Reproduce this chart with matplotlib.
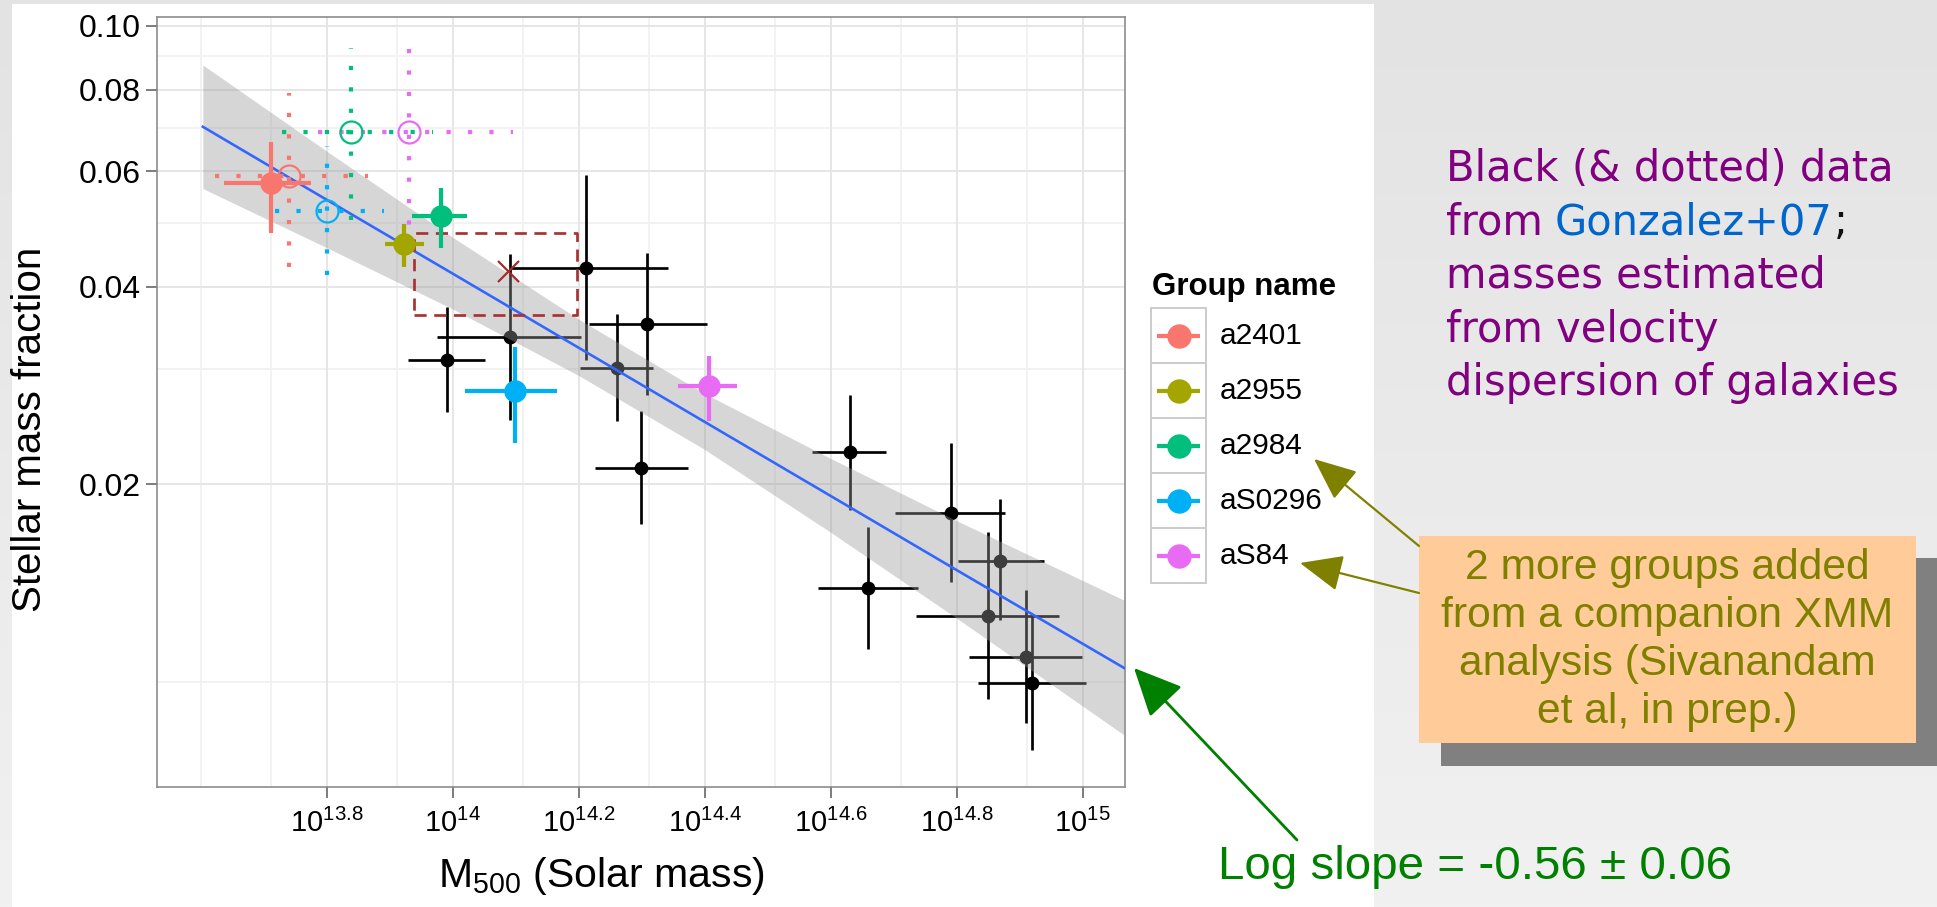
import numpy as np
import matplotlib
matplotlib.use("Agg")
import matplotlib.pyplot as plt
from matplotlib.patches import Rectangle
from matplotlib.colors import LinearSegmentedColormap

# ---------------- data ----------------
# Gonzalez+07 groups (black): log10 M500, its lower/upper bound, stellar fraction and bounds
gz_logm    = [14.090, 13.990, 14.211, 14.309, 14.260, 14.299, 14.630, 14.660, 14.791, 14.869, 14.850, 14.910, 14.919]
gz_logm_lo = [13.975, 13.929, 14.091, 14.216, 14.202, 14.226, 14.571, 14.580, 14.702, 14.802, 14.736, 14.820, 14.834]
gz_logm_hi = [14.204, 14.051, 14.341, 14.404, 14.318, 14.374, 14.688, 14.738, 14.877, 14.938, 14.963, 14.999, 15.006]
gz_f       = [0.0336, 0.0310, 0.0427, 0.0351, 0.0301, 0.0212, 0.0224, 0.0139, 0.0181, 0.0153, 0.0126, 0.0109, 0.00997]
gz_f_lo    = [0.0251, 0.0258, 0.0309, 0.0274, 0.0250, 0.0174, 0.0183, 0.0112, 0.0142, 0.0124, 0.0094, 0.00864, 0.00787]
gz_f_hi    = [0.0449, 0.0373, 0.0592, 0.0450, 0.0364, 0.0259, 0.0274, 0.0172, 0.0231, 0.0190, 0.0169, 0.0138, 0.0127]

# XMM groups (filled colored points)
groups      = ["a2401", "a2955", "a2984", "aS0296", "aS84"]
grp_colors  = ["#F8766D", "#A3A500", "#00BF7D", "#00B0F6", "#E76BF3"]
grp_logm    = [13.711, 13.922, 13.981, 14.099, 14.407]
grp_logm_lo = [13.637, 13.892, 13.935, 14.020, 14.357]
grp_logm_hi = [13.774, 13.954, 14.023, 14.165, 14.452]
grp_f       = [0.0577, 0.0465, 0.0514, 0.0278, 0.0282]
grp_f_lo    = [0.0483, 0.0429, 0.0459, 0.0231, 0.0250]
grp_f_hi    = [0.0666, 0.0499, 0.0567, 0.0324, 0.0314]

# Gonzalez values for the same groups (open circles, dotted bars)
old_groups  = ["a2401", "a2984", "aS0296", "aS84"]
old_logm    = [13.740, 13.839, 13.800, 13.930]
old_logm_lo = [13.622, 13.728, 13.718, 13.786]
old_logm_hi = [13.866, 13.969, 13.890, 14.096]
old_f       = [0.0590, 0.0688, 0.0522, 0.0688]
old_f_lo    = [0.0429, 0.0506, 0.0417, 0.0461]
old_f_hi    = [0.0790, 0.0927, 0.0655, 0.0980]

# single cross marker and dashed box
cross_logm, cross_f = 14.087, 0.0423
box_logm = [13.939, 14.197]
box_f    = [0.0362, 0.0483]

# fitted power law and its confidence band
band_logm = [13.603, 13.8, 14.0, 14.2, 14.4, 14.6, 14.8, 15.067]
band_mid  = [0.0702, 0.0543, 0.0419, 0.0323, 0.0249, 0.0192, 0.0148, 0.01048]
band_hi   = [0.0872, 0.0644, 0.0476, 0.0357, 0.0275, 0.0219, 0.0176, 0.0133]
band_lo   = [0.0565, 0.0459, 0.0370, 0.0293, 0.0226, 0.0169, 0.0125, 0.00828]

xtick_logs   = [13.8, 14.0, 14.2, 14.4, 14.6, 14.8, 15.0]
xtick_labels = ["$10^{13.8}$", "$10^{14}$", "$10^{14.2}$", "$10^{14.4}$", "$10^{14.6}$", "$10^{14.8}$", "$10^{15}$"]
xgrid_minor  = [13.6, 13.711, 13.911, 14.111, 14.311, 14.511, 14.711, 14.911]
ytick_vals   = [0.02, 0.04, 0.06, 0.08, 0.10]
ytick_labels = ["0.02", "0.04", "0.06", "0.08", "0.10"]
ygrid_minor  = [0.01, 0.03, 0.05, 0.07, 0.09]

# ---------------- figure ----------------
W, H, DPI = 1937, 907, 100
plt.rcParams["font.family"] = ["Liberation Sans", "DejaVu Sans"]
plt.rcParams["mathtext.fontset"] = "custom"
plt.rcParams["mathtext.rm"] = "Liberation Sans"
plt.rcParams["mathtext.it"] = "Liberation Sans:italic"
plt.rcParams["mathtext.bf"] = "Liberation Sans:bold"

fig = plt.figure(figsize=(W / DPI, H / DPI), dpi=DPI)

def fx(px):
    return px / W

def fy(py):
    return 1 - py / H

PT = 72.0 / DPI  # points per pixel

# background slide
bg = fig.add_axes([0, 0, 1, 1], zorder=-10)
cm = LinearSegmentedColormap.from_list("g", ["#e3e3e3", "#f1f1f1"])
bg.imshow(np.linspace(0, 1, 256).reshape(-1, 1), aspect="auto", cmap=cm, extent=[0, W, H, 0])
bg.set_xlim(0, W)
bg.set_ylim(H, 0)
bg.axis("off")
bg.add_patch(Rectangle((12, 4), 1362, 903, facecolor="white", edgecolor="none"))
bg.add_patch(Rectangle((1441, 557.5), 500, 208, facecolor="#808080", edgecolor="none"))
bg.add_patch(Rectangle((1418.7, 535.5), 497, 207.2, facecolor="#ffcc99", edgecolor="none"))

# main axes
ax = fig.add_axes([fx(157), fy(787), fx(1125) - fx(157), fy(17) - fy(787)])
ax.set_xscale("log")
ax.set_yscale("log")
ax.set_xlim(10 ** 13.5302, 10 ** 15.0674)
ax.set_ylim(10 ** -2.1606, 10 ** -0.9863)
ax.set_facecolor("white")

for v in xgrid_minor:
    ax.axvline(10 ** v, color="#f2f2f2", lw=2 * PT, zorder=0.3)
for v in ygrid_minor:
    ax.axhline(v, color="#f2f2f2", lw=2 * PT, zorder=0.3)
for v in xtick_logs:
    ax.axvline(10 ** v, color="#e6e6e6", lw=2 * PT, zorder=0.4)
for v in ytick_vals:
    ax.axhline(v, color="#e6e6e6", lw=2 * PT, zorder=0.4)

ax.minorticks_off()
ax.set_xticks([10 ** v for v in xtick_logs])
ax.set_xticklabels(xtick_labels)
ax.set_yticks(ytick_vals)
ax.set_yticklabels(ytick_labels)
ax.minorticks_off()
ax.tick_params(axis="both", which="both", length=11 * PT, width=1.5 * PT, color="#555555",
               labelcolor="black")
ax.tick_params(axis="x", pad=8, labelsize=21)
ax.tick_params(axis="y", pad=4, labelsize=23)
for s in ax.spines.values():
    s.set_color("#888888")
    s.set_linewidth(1.6 * PT)

# black Gonzalez points
gx = 10 ** np.array(gz_logm)
gxl = 10 ** np.array(gz_logm_lo)
gxh = 10 ** np.array(gz_logm_hi)
gy = np.array(gz_f)
ax.errorbar(gx, gy, xerr=[gx - gxl, gxh - gx], yerr=[gy - np.array(gz_f_lo), np.array(gz_f_hi) - gy],
            fmt="o", color="black", ms=12.5 * PT, elinewidth=2.7 * PT, capsize=0, zorder=2)

# confidence band and fit line
bx = 10 ** np.array(band_logm)
ax.fill_between(bx, band_lo, band_hi, color="#999999", alpha=0.4, lw=0, zorder=3)
ax.plot(bx, band_mid, color="#3366FF", lw=2.6 * PT, zorder=4)

# dashed box and cross
bxl, bxh = 10 ** box_logm[0], 10 ** box_logm[1]
ax.plot([bxl, bxh, bxh, bxl, bxl], [box_f[0], box_f[0], box_f[1], box_f[1], box_f[0]],
        color="#a83232", lw=2.7 * PT, dashes=(4.5, 2.8), zorder=5)
ax.plot([10 ** cross_logm], [cross_f], marker="x", color="#a52a2a", ms=21 * PT, mew=2.2 * PT,
        ls="none", zorder=6)

# dotted (old) values for XMM groups
for i, g in enumerate(old_groups):
    c = grp_colors[groups.index(g)]
    x = 10 ** old_logm[i]
    ax.plot([10 ** old_logm_lo[i], 10 ** old_logm_hi[i]], [old_f[i]] * 2, color=c, lw=4.2 * PT,
            dashes=(1, 4.1), dash_capstyle="butt", zorder=5)
    ax.plot([x, x], [old_f_lo[i], old_f_hi[i]], color=c, lw=4.2 * PT,
            dashes=(1, 4.1), dash_capstyle="butt", zorder=5)
    ax.plot([x], [old_f[i]], marker="o", mfc="none", mec=c, ms=22 * PT, mew=2.2 * PT, ls="none", zorder=5.5)

# filled XMM groups
for i, g in enumerate(groups):
    c = grp_colors[i]
    x = 10 ** grp_logm[i]
    y = grp_f[i]
    ax.errorbar([x], [y], xerr=[[x - 10 ** grp_logm_lo[i]], [10 ** grp_logm_hi[i] - x]],
                yerr=[[y - grp_f_lo[i]], [grp_f_hi[i] - y]], fmt="o", color=c, ms=21 * PT,
                elinewidth=4.2 * PT, capsize=0, zorder=6)

# ---------------- overlay: labels, legend, annotations ----------------
ov = fig.add_axes([0, 0, 1, 1], zorder=10)
ov.set_xlim(0, W)
ov.set_ylim(H, 0)
ov.axis("off")

ov.text(30, 429, "Stellar mass fraction", rotation=90, ha="center", va="center", fontsize=29, color="black")
ov.text(601, 887, "M$_{500}$ (Solar mass)", ha="center", va="baseline", fontsize=29.5, color="black")

# legend
ov.text(1151.5, 295, "Group name", fontsize=22.5, fontweight="bold", ha="left", va="baseline")
for i, g in enumerate(groups):
    top = 308.3 + 55 * i
    ov.add_patch(Rectangle((1151, top), 55, 55, facecolor="white", edgecolor="#cccccc", lw=2 * PT))
    cy = top + 27.5
    ov.plot([1157, 1200], [cy, cy], color=grp_colors[i], lw=4.2 * PT, solid_capstyle="butt")
    ov.plot([1178.5], [cy], marker="o", color=grp_colors[i], ms=23 * PT, ls="none")
    ov.text(1220, cy, g, fontsize=21.5, ha="left", va="center")

# purple note
purple, blue = "#800080", "#0066CC"
pfs = 30
pfam = ["DejaVu Sans"]
ov.text(1446, 180.7, "Black (& dotted) data", color=purple, fontsize=pfs, family=pfam, va="baseline")
ov.text(1446, 234.3, "from", color=purple, fontsize=pfs, family=pfam, va="baseline")
tg = ov.text(1555, 234.3, "Gonzalez+07", color=blue, fontsize=pfs, family=pfam, va="baseline")
fig.canvas.draw()
r = fig.canvas.get_renderer()
bb = tg.get_window_extent(r)
ov.text(bb.x1 + 1, 234.3, ";", color="#111111", fontsize=pfs, family=pfam, va="baseline")
ov.text(1446, 288.0, "masses estimated", color=purple, fontsize=pfs, family=pfam, va="baseline")
ov.text(1446, 341.7, "from velocity", color=purple, fontsize=pfs, family=pfam, va="baseline")
ov.text(1446, 395.3, "dispersion of galaxies", color=purple, fontsize=pfs, family=pfam, va="baseline")

# orange box text
olive = "#808000"
for txt, yb in zip(["2 more groups added", "from a companion XMM", "analysis (Sivanandam", "et al, in prep.)"],
                   [579, 627, 675, 723]):
    ov.text(1667.3, yb, txt, color=olive, fontsize=30.7, ha="center", va="baseline")

# olive arrows
ov.annotate("", xy=(1314, 459), xytext=(1419, 546),
            arrowprops=dict(arrowstyle="-|>,head_length=0.7,head_width=0.3", color=olive,
                            lw=2.2 * PT, mutation_scale=38, shrinkA=0, shrinkB=0))
ov.annotate("", xy=(1300, 563), xytext=(1419, 593),
            arrowprops=dict(arrowstyle="-|>,head_length=0.7,head_width=0.3", color=olive,
                            lw=2.2 * PT, mutation_scale=38, shrinkA=0, shrinkB=0))

# green slope annotation
green = "#008000"
ov.text(1218.5, 879.3, "Log slope = -0.56 \u00b1 0.06", color=green, fontsize=34.2, va="baseline")
ov.annotate("", xy=(1134, 668), xytext=(1297, 840),
            arrowprops=dict(arrowstyle="-|>,head_length=0.75,head_width=0.35", color=green,
                            lw=2.8 * PT, mutation_scale=40, shrinkA=0, shrinkB=0))

fig.savefig("out.png", dpi=DPI)
